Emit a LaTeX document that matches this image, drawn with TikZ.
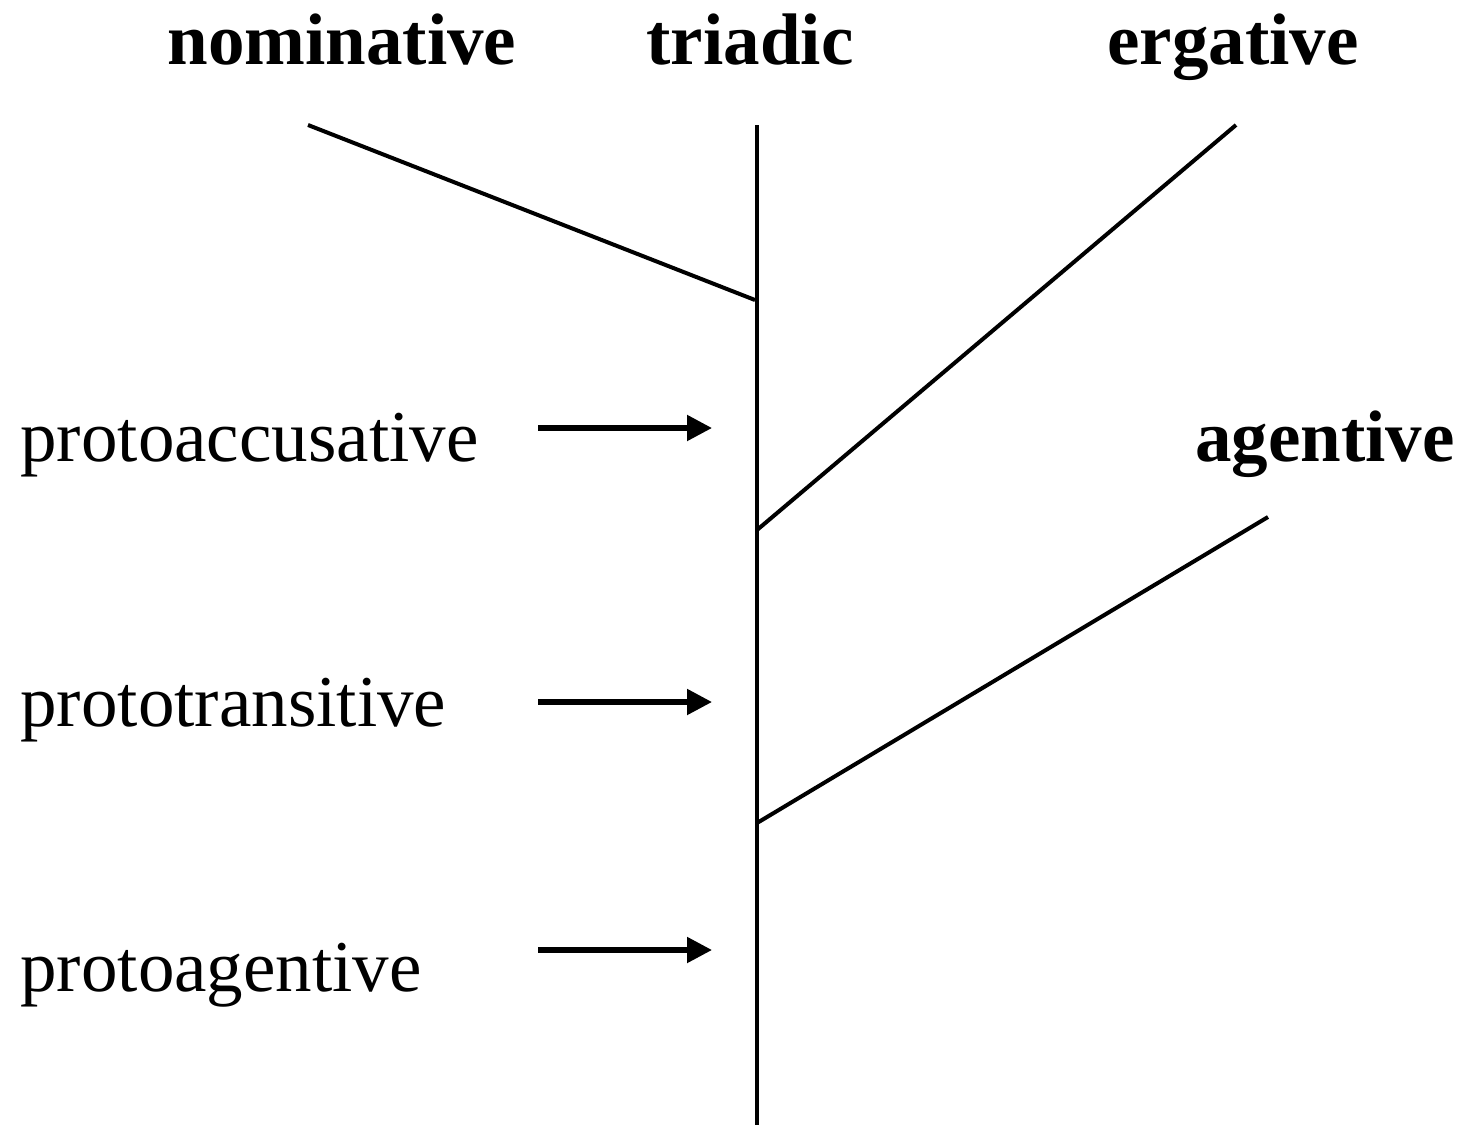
\documentclass[tikz,border=0pt]{standalone}
\usepackage{fontspec}
\setmainfont{Liberation Serif}
\usetikzlibrary{arrows.meta}
\begin{document}
\begin{tikzpicture}[x=0.5pt,y=-0.5pt,
  lbl/.style={inner sep=0pt,font=\fontsize{36.5}{40}\selectfont},
  blbl/.style={lbl,font=\fontsize{36.5}{40}\selectfont\bfseries},
  branch/.style={line width=2pt},
  pointer/.style={line width=2.6pt,-{Triangle[length=12.5pt,width=12.5pt]}}]
\useasboundingbox (0,0) rectangle (1463,1125);
% headings
\node[blbl,anchor=base] (nom) at (342,64) {nominative};
\node[blbl,anchor=base] (tri) at (750,64) {triadic};
\node[blbl,anchor=base] (erg) at (1233,64) {ergative};
\node[blbl,anchor=base east] (agt) at (1455,461) {agentive};
% left labels
\node[lbl,anchor=base west] (pacc) at (20,461) {protoaccusative};
\node[lbl,anchor=base west] (ptr) at (20,726) {prototransitive};
\node[lbl,anchor=base west] (pag) at (20,991) {protoagentive};
% tree coordinates
\coordinate (ttop) at (757,125);
\coordinate (tbot) at (757,1125);
\coordinate (jn) at (755,300);
\coordinate (je) at (757,530);
\coordinate (ja) at (757,823);
\coordinate (en) at (308,125);
\coordinate (ee) at (1236,125);
\coordinate (ea) at (1268,517);
\draw[branch] (ttop) -- (tbot);
\draw[branch] (en) -- (jn);
\draw[branch] (ee) -- (je);
\draw[branch] (ea) -- (ja);
% arrows
\coordinate (a1s) at (538,428); \coordinate (a1e) at (712,428);
\coordinate (a2s) at (538,702); \coordinate (a2e) at (712,702);
\coordinate (a3s) at (538,950); \coordinate (a3e) at (712,950);
\draw[pointer] (a1s) -- (a1e);
\draw[pointer] (a2s) -- (a2e);
\draw[pointer] (a3s) -- (a3e);
\end{tikzpicture}
\end{document}
